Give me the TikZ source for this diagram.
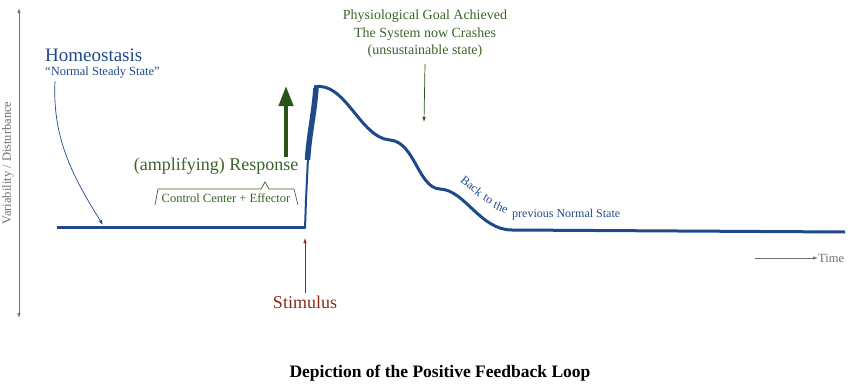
\documentclass[tikz,border=0pt]{standalone}
\usepackage{fontspec}
\setmainfont{Liberation Serif}
\usetikzlibrary{positioning,arrows.meta}
\definecolor{curveblue}{HTML}{1F4A8A}
\definecolor{respgreen}{HTML}{3A6428}
\definecolor{arrowgreen}{HTML}{2A5316}
\definecolor{stimred}{HTML}{8A2A1C}
\definecolor{axisgray}{HTML}{707070}
\tikzset{
	text base/.style={inner sep=0pt, align=center},
	blue label/.style={text base, text=curveblue},
	green label/.style={text base, text=respgreen},
	thin arrow/.style={-{Latex[length=5pt,width=3.5pt]}, line width=0.7pt},
}

\begin{document}
\begin{tikzpicture}[x=1pt,y=-1pt]
	\useasboundingbox (0,0) rectangle (852,391);

	% axes
	\coordinate (axtop) at (19,8);
	\coordinate (axbot) at (19,318);
	\draw[axisgray, line width=0.8pt, {Latex[length=5pt,width=3.5pt]}-{Latex[length=5pt,width=3.5pt]}] (axtop) -- (axbot);
	\node[text base, text=axisgray, rotate=90, font=\fontsize{12.5}{14}\selectfont] (yaxis) at (8,163) {Variability / Disturbance};
	\node[text base, text=axisgray, font=\fontsize{12.5}{14}\selectfont, anchor=west] (time) at (818,258) {Time};
	\coordinate (timestart) at (755,258);
	\draw[axisgray, thin arrow] (timestart) -- (time.west);

	% the curve
	\draw[curveblue, line width=3pt] (57,227) -- (305,227);
	\draw[curveblue, line width=2pt] (305,228.5) -- (306,200) -- (308,158);
	\draw[curveblue, line width=5.5pt] (307.5,160) .. controls (309,135) and (314,115) .. (316,88);
	\draw[curveblue, line width=3pt] (314,87) .. controls (345,80) and (360,138) .. (390,140)
		.. controls (415,142) and (418,188) .. (440,189)
		.. controls (465,190) and (480,230) .. (512,230) -- (845,232);

	% homeostasis
	\node[blue label, font=\fontsize{19}{21}\selectfont, anchor=west] (homeo) at (45,55) {Homeostasis};
	\node[blue label, font=\fontsize{12.5}{14}\selectfont, below=5pt of homeo.south west, anchor=north west] (steady) {“Normal Steady State”};
	\coordinate (homeotip) at (103,225);
	\draw[curveblue, thin arrow] ([xshift=10pt,yshift=-3pt]steady.south west) .. controls (52,140) and (75,180) .. (homeotip);

	% response
	\node[green label, font=\fontsize{18}{20}\selectfont] (response) at (216,166) {(amplifying) Response};
	\coordinate (ampbase) at (286,157);
	\coordinate (amptip) at (286,86);
	\draw[arrowgreen, line width=4pt, -{Triangle[length=20pt,width=14pt]}] (ampbase) -- (amptip);
	\node[green label, font=\fontsize{12.5}{14}\selectfont] (control) at (226,198) {Control Center + Effector};
	\draw[respgreen, line width=0.7pt] (155,205) -- (158,189) -- (261,189) -- (265,182) -- (269,189) -- (294,189) -- (298,205);

	% stimulus
	\node[text base, text=stimred, font=\fontsize{18}{20}\selectfont] (stimulus) at (305,302) {Stimulus};
	\coordinate (stimtip) at (305,238);
	\draw[stimred, thin arrow] ([yshift=2pt]stimulus.north) -- (stimtip);

	% goal achieved
	\node[green label, font=\fontsize{14}{17.5}\selectfont] (goal) at (425,34) {Physiological Goal Achieved\\The System now Crashes\\(unsustainable state)};
	\coordinate (goaltip) at (424,122);
	\draw[arrowgreen, thin arrow] ([yshift=-6pt]goal.south) -- (goaltip);

	% back to normal
	\node[blue label, font=\fontsize{12}{14}\selectfont, rotate=-40] (backa) at (472,186) {Back};
	\node[blue label, font=\fontsize{12}{14}\selectfont, rotate=-33] (backb) at (488,199) {to};
	\node[blue label, font=\fontsize{12}{14}\selectfont, rotate=-24] (backc) at (501,207) {the};
	\node[blue label, font=\fontsize{12}{14}\selectfont, anchor=west] (prevstate) at (512,215) {previous Normal State};

	% title
	\node[text base, font=\bfseries\fontsize{17.5}{20}\selectfont] (title) at (440,373) {Depiction of the Positive Feedback Loop};
\end{tikzpicture}
\end{document}
